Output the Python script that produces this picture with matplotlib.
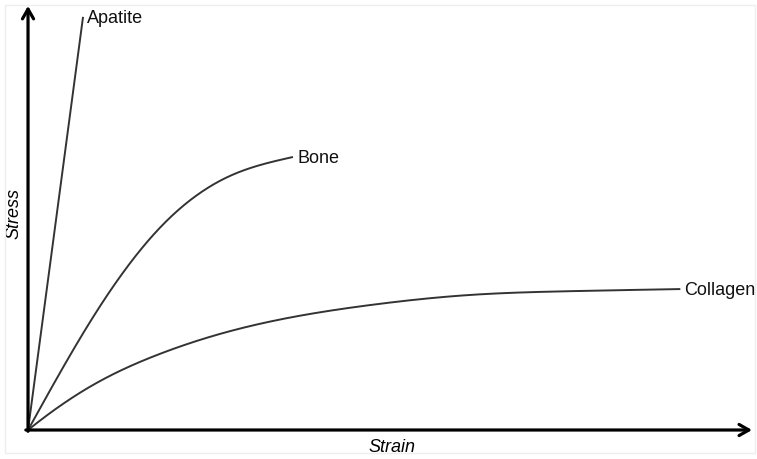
import numpy as np
import matplotlib.pyplot as plt
from matplotlib.patches import Rectangle

plt.rcParams['font.family'] = ['Liberation Sans', 'DejaVu Sans']

# stress-strain curves, arbitrary units (axis runs 0..100 on both)
apatite_strain = [0, 7.6]
apatite_stress = [0, 97.9]

bone_strain = [0, 9.0, 18.2, 27.5, 36.6]
bone_stress = [0, 26.8, 47.9, 59.9, 64.7]

collagen_strain = [0, 8.8, 18.0, 27.2, 47.2, 61.0, 74.9, 90.1]
collagen_stress = [0, 10.5, 17.9, 23.1, 29.6, 32.0, 32.9, 33.4]

curve_names = ["Apatite", "Bone", "Collagen"]
clamp_start = [False, False, True]


def spline_line(xs, ys, clamp=False, n=400):
    # cubic spline through the read points, only to draw a smooth line
    x = np.asarray(xs, float)
    y = np.asarray(ys, float)
    if len(x) < 3:
        return x, y
    h = np.diff(x)
    d = np.diff(y) / h
    npts = len(x)
    A = np.zeros((npts, npts))
    b = np.zeros(npts)
    if clamp:
        # start slope estimated from the first three points
        m0 = ((2 * h[0] + h[1]) * d[0] - h[0] * d[1]) / (h[0] + h[1])
        A[0, 0], A[0, 1] = 2 * h[0], h[0]
        b[0] = 6 * (d[0] - m0)
    else:
        A[0, 0] = 1
    A[-1, -1] = 1
    for k in range(1, npts - 1):
        A[k, k - 1] = h[k - 1]
        A[k, k] = 2 * (h[k - 1] + h[k])
        A[k, k + 1] = h[k]
        b[k] = 6 * (d[k] - d[k - 1])
    M = np.linalg.solve(A, b)
    xx = np.linspace(x[0], x[-1], n)
    i = np.clip(np.searchsorted(x, xx) - 1, 0, npts - 2)
    a = x[i + 1] - xx
    c = xx - x[i]
    hi = h[i]
    yy = (M[i] * a**3 / (6 * hi) + M[i + 1] * c**3 / (6 * hi)
          + (y[i] / hi - M[i] * hi / 6) * a + (y[i + 1] / hi - M[i + 1] * hi / 6) * c)
    return xx, yy


fig = plt.figure(figsize=(7.57, 4.59), dpi=100)
ax = fig.add_axes([0, 0, 1, 1])
ax.set_xlim(-3.87, 100.69)
ax.set_ylim(-6.87, 101.9)
ax.axis('off')

# faint frame around the picture
fig.patches.append(Rectangle((5 / 757, 6 / 459), 750 / 757, 448 / 459,
                             transform=fig.transFigure, fill=False,
                             edgecolor='#eeeeee', lw=1))

# axes with open arrow heads
arrow = dict(arrowstyle='->,head_length=0.7,head_width=0.4', lw=2.3,
             color='black', shrinkA=0, shrinkB=0)
ax.annotate('', xy=(0, 100.5), xytext=(0, -0.3), arrowprops=arrow)
ax.annotate('', xy=(100, 0), xytext=(-0.3, 0), arrowprops=arrow)

series = [(apatite_strain, apatite_stress),
          (bone_strain, bone_stress),
          (collagen_strain, collagen_stress)]
for name, clamp, (xs, ys) in zip(curve_names, clamp_start, series):
    sx, sy = spline_line(xs, ys, clamp)
    ax.plot(sx, sy, color='#333333', lw=1.4, solid_joinstyle='round',
            solid_capstyle='butt')
    ax.annotate(name, xy=(xs[-1], ys[-1]), xytext=(3, -1),
                textcoords='offset points', ha='left', va='center',
                fontsize=13, color='#111111')

ax.text(0.518, 0.026, "Strain", transform=ax.transAxes, ha='center',
        va='center', fontsize=13, style='italic')
ax.text(0.018, 0.535, "Stress", transform=ax.transAxes, ha='center',
        va='center', fontsize=13, style='italic', rotation=90)

fig.savefig("out.png", dpi=100)
